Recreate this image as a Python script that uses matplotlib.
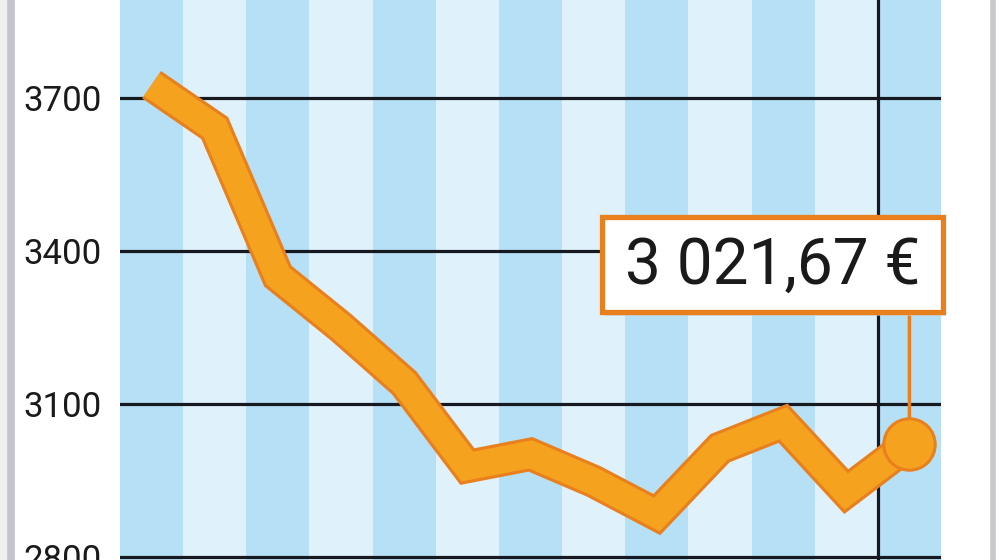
import matplotlib
matplotlib.use("Agg")
import matplotlib.pyplot as plt
from matplotlib.patches import Rectangle
from matplotlib.lines import Line2D

# valeurs (une par bande)
periodes = list(range(13))
valeurs = [3725, 3640, 3350, 3250, 3141, 2977, 3001, 2948, 2883, 3013, 3062, 2928, 3021.67]
graduations = [2800, 3100, 3400, 3700]
etiquette = "3 021,67 €"

bleu_fonce = "#b5e0f6"
bleu_clair = "#dff2fb"
orange = "#f5a31f"
orange_bord = "#e8801e"
police = ["Roboto", "DejaVu Sans"]

fig = plt.figure(figsize=(10, 5.6), dpi=100)
fig.patch.set_facecolor("white")
ax = fig.add_axes([0.120, 0.0, 0.821, 1.0])

# bandes verticales alternées
for i in periodes:
    ax.axvspan(i - 0.5, i + 0.5, color=bleu_fonce if i % 2 == 0 else bleu_clair, lw=0, zorder=0)

ax.set_xlim(-0.5, len(periodes) - 0.5)
ax.set_ylim(2794, 3891)

for g in graduations:
    ax.axhline(g, color="#161a20", lw=2.3, zorder=1)
ax.axvline(len(periodes) - 1.5, color="#161a20", lw=2.3, zorder=1)

# courbe épaisse avec bord plus foncé
ax.plot(periodes, valeurs, color=orange_bord, lw=24, solid_joinstyle="miter",
        solid_capstyle="butt", zorder=3)
ax.plot(periodes, valeurs, color=orange, lw=19.5, solid_joinstyle="miter",
        solid_capstyle="butt", zorder=4)

# connecteur vers l'étiquette
box_bas, box_haut = 0.443, 0.6125
box_g, box_d = 0.587, 1.002
ax.annotate("", xy=(periodes[-1], valeurs[-1]), xytext=(periodes[-1], box_bas),
            xycoords="data", textcoords=("data", "axes fraction"),
            arrowprops=dict(arrowstyle="-", color=orange_bord, lw=2.5), zorder=5)
ax.plot([periodes[-1]], [valeurs[-1]], "o", ms=37, mfc=orange, mec=orange_bord, mew=2.2, zorder=6)

# boîte de l'étiquette
ombre = Rectangle((box_g + 0.004, box_bas - 0.008), box_d - box_g, box_haut - box_bas,
                  transform=ax.transAxes, fc="#cccccc", ec="none", alpha=0.6,
                  clip_on=False, zorder=6)
ax.add_patch(ombre)
boite = Rectangle((box_g, box_bas), box_d - box_g, box_haut - box_bas,
                  transform=ax.transAxes, fc="white", ec=orange_bord, lw=3.8,
                  clip_on=False, zorder=7)
ax.add_patch(boite)
ax.text((box_g + box_d) / 2, (box_bas + box_haut) / 2 - 0.003, etiquette,
        transform=ax.transAxes, ha="center", va="center", fontsize=46,
        family=police, color="#1a1a1a", zorder=8)

ax.set_xticks([])
ax.set_yticks(graduations)
ax.set_yticklabels([str(g) for g in graduations], fontsize=25,
                   family=police, color="#1a1a1a")
ax.tick_params(axis="y", length=0, pad=13)
for s in ax.spines.values():
    s.set_visible(False)

# bordures grises du cadre
fig.add_artist(Rectangle((0, 0), 0.007, 1, transform=fig.transFigure, fc="#efefef", ec="none"))
fig.add_artist(Line2D([0.011, 0.011], [0, 1], transform=fig.transFigure, color="#c3c3cf", lw=5.5))
fig.add_artist(Line2D([0.9925, 0.9925], [0, 1], transform=fig.transFigure, color="#c8c8ce", lw=4))

fig.savefig("out.png", dpi=100)
